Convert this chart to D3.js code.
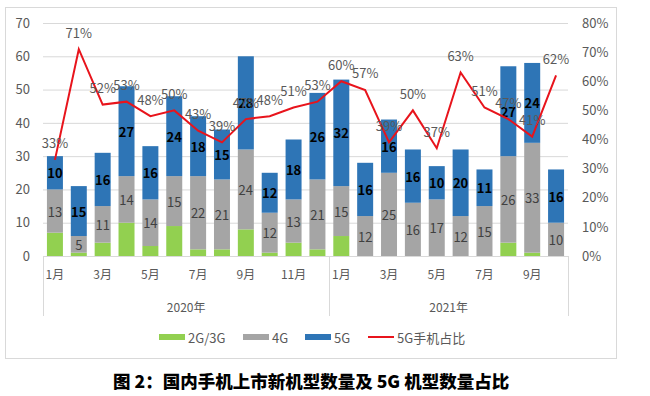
<!DOCTYPE html>
<html>
<head>
<meta charset="utf-8">
<script src="https://cdn.jsdelivr.net/npm/d3@7"></script>
<style>
  body { margin: 0; background: #fff; }
  svg text { font-family: "Noto Sans CJK SC", "Noto Sans", sans-serif; }
</style>
</head>
<body>
<div id="chart"></div>
<script>
// data
var months = ['1月','2月','3月','4月','5月','6月','7月','8月','9月','10月','11月','12月',
              '1月','2月','3月','4月','5月','6月','7月','8月','9月','10月'];
var years = [{name: '2020年', from: 0, to: 11}, {name: '2021年', from: 12, to: 21}];
var g23 = [7,1,4,10,3,9,2,2,8,1,4,2, 6,0,0,0,0,0,0,4,1,0];
var g4  = [13,5,11,14,14,15,22,21,24,12,13,21, 15,12,25,16,17,12,15,26,33,10];
var g5  = [10,15,16,27,16,24,18,15,28,12,18,26, 32,16,16,16,10,20,11,27,24,16];
var share = [33,71,52,53,48,50,43,39,47,48,51,53, 60,57,39,50,37,63,51,47,41,62];
var leftTicks = [0,10,20,30,40,50,60,70];
var rightTicks = [0,10,20,30,40,50,60,70,80];

var colors = {g23: '#92d050', g4: '#a5a5a5', g5: '#2e75b6', line: '#e8141c'};
var keys = ['g23', 'g4', 'g5'];

var W = 650, H = 396;
var plot = {left: 43, right: 568, top: 23, bottom: 256};

var svg = d3.select('#chart').append('svg')
    .attr('width', W).attr('height', H);

// chart frame
svg.append('rect')
    .attr('x', 5.5).attr('y', 7.5).attr('width', 611).attr('height', 351)
    .attr('fill', 'none').attr('stroke', '#d9d9d9');

var rows = months.map(function(m, i) {
    return {i: i, g23: g23[i], g4: g4[i], g5: g5[i], share: share[i]};
});

var x = d3.scaleBand()
    .domain(d3.range(months.length))
    .range([plot.left, plot.right])
    .paddingInner(0.33).paddingOuter(0.165);

var y = d3.scaleLinear().domain([0, 70]).range([plot.bottom, plot.top]);
var y2 = d3.scaleLinear().domain([0, 80]).range([plot.bottom, plot.top]);

// gridlines + left axis
var gy = svg.append('g')
    .attr('transform', 'translate(' + plot.left + ',0)')
    .call(d3.axisLeft(y).tickValues(leftTicks).tickSize(-(plot.right - plot.left)).tickPadding(13));
gy.select('.domain').remove();
gy.selectAll('.tick line').attr('stroke', '#d9d9d9');
gy.selectAll('.tick text').attr('fill', '#595959').style('font-size', '13px');

// right axis
var gy2 = svg.append('g')
    .attr('transform', 'translate(' + plot.right + ',0)')
    .call(d3.axisRight(y2).tickValues(rightTicks).tickSize(0).tickPadding(14)
        .tickFormat(function(d) { return d + '%'; }));
gy2.select('.domain').remove();
gy2.selectAll('.tick text').attr('fill', '#595959').style('font-size', '13px');

// stacked bars
var series = d3.stack().keys(keys)(rows);
var layer = svg.append('g').selectAll('g')
    .data(series).join('g')
    .attr('fill', function(d) { return colors[d.key]; });

layer.selectAll('rect')
    .data(function(d) { return d; })
    .join('rect')
    .attr('x', function(d) { return x(d.data.i); })
    .attr('width', x.bandwidth())
    .attr('y', function(d) { return y(d[1]); })
    .attr('height', function(d) { return y(d[0]) - y(d[1]); });

// category axis (two levels)
var cat = svg.append('g').attr('stroke', '#d9d9d9');
cat.append('line')
    .attr('x1', plot.left).attr('x2', plot.right)
    .attr('y1', plot.bottom + 0.5).attr('y2', plot.bottom + 0.5);
var seps = [plot.left, x(years[1].from) - x.step() * x.paddingInner() / 2, plot.right];
cat.selectAll('line.sep').data(seps).join('line')
    .attr('class', 'sep')
    .attr('x1', function(d) { return Math.round(d) + 0.5; })
    .attr('x2', function(d) { return Math.round(d) + 0.5; })
    .attr('y1', plot.bottom).attr('y2', 316);

// only every other month is labelled
var gx = svg.append('g')
    .attr('transform', 'translate(0,' + plot.bottom + ')')
    .call(d3.axisBottom(x)
        .tickValues(d3.range(months.length).filter(function(i) { return i % 2 === 0; }))
        .tickSize(0).tickPadding(14)
        .tickFormat(function(i) { return months[i]; }));
gx.select('.domain').remove();
gx.selectAll('.tick text').attr('fill', '#595959').style('font-size', '12px');

svg.append('g').selectAll('text')
    .data(years).join('text')
    .attr('x', function(d) { return (x(d.from) + x(d.to) + x.bandwidth()) / 2; })
    .attr('y', 306)
    .attr('text-anchor', 'middle')
    .attr('dominant-baseline', 'central')
    .attr('fill', '#595959')
    .style('font-size', '12px')
    .text(function(d) { return d.name; });

// segment labels
var mid = function(d) { return y((d[0] + d[1]) / 2); };
svg.append('g').selectAll('text')
    .data(series[1]).join('text')
    .attr('x', function(d) { return x(d.data.i) + x.bandwidth() / 2; })
    .attr('y', mid)
    .attr('text-anchor', 'middle').attr('dominant-baseline', 'central')
    .attr('fill', '#404040')
    .style('font-size', '13px')
    .text(function(d) { return d.data.g4; });

svg.append('g').selectAll('text')
    .data(series[2]).join('text')
    .attr('x', function(d) { return x(d.data.i) + x.bandwidth() / 2; })
    .attr('y', mid)
    .attr('text-anchor', 'middle').attr('dominant-baseline', 'central')
    .attr('fill', '#000')
    .style('font-size', '13px').style('font-weight', 'bold')
    .text(function(d) { return d.data.g5; });

// share line
var line = d3.line()
    .x(function(d) { return x(d.i) + x.bandwidth() / 2; })
    .y(function(d) { return y2(d.share); });

svg.append('path')
    .datum(rows)
    .attr('d', line)
    .attr('fill', 'none')
    .attr('stroke', colors.line)
    .attr('stroke-width', 2);

svg.append('g').selectAll('text')
    .data(rows).join('text')
    .attr('x', function(d) { return x(d.i) + x.bandwidth() / 2; })
    .attr('y', function(d) { return y2(d.share) - 17; })
    .attr('text-anchor', 'middle').attr('dominant-baseline', 'central')
    .attr('fill', '#595959')
    .style('font-size', '13px')
    .text(function(d) { return d.share + '%'; });

// legend
var legendItems = [
    {label: '2G/3G', key: 'g23', x: 159},
    {label: '4G', key: 'g4', x: 243},
    {label: '5G', key: 'g5', x: 305},
    {label: '5G手机占比', key: 'line', x: 368}
];
var lg = svg.append('g').selectAll('g')
    .data(legendItems).join('g')
    .attr('transform', function(d) { return 'translate(' + d.x + ',337)'; });
lg.filter(function(d) { return d.key !== 'line'; })
    .append('rect')
    .attr('x', 0).attr('y', -3).attr('width', 26).attr('height', 6)
    .attr('fill', function(d) { return colors[d.key]; });
lg.filter(function(d) { return d.key === 'line'; })
    .append('line')
    .attr('x1', 0).attr('x2', 26).attr('y1', 0).attr('y2', 0)
    .attr('stroke', colors.line).attr('stroke-width', 2);
lg.append('text')
    .attr('x', 29).attr('y', 0)
    .attr('dominant-baseline', 'central')
    .attr('fill', '#595959')
    .style('font-size', '13px')
    .text(function(d) { return d.label; });

// caption
svg.append('text')
    .attr('x', 113).attr('y', 380)
    .attr('dominant-baseline', 'central')
    .attr('fill', '#000')
    .style('font-size', '17.5px').style('font-weight', '900')
    .text('图 2：国内手机上市新机型数量及 5G 机型数量占比');
</script>
</body>
</html>
